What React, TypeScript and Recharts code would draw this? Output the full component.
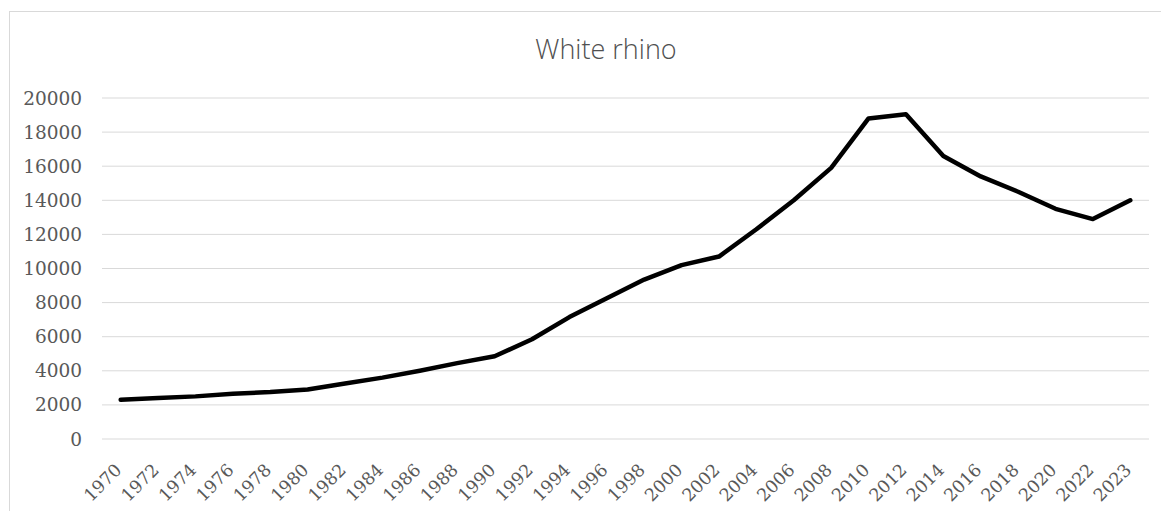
import { LineChart, Line, XAxis, YAxis, CartesianGrid } from 'recharts';

const years = [
  '1970', '1972', '1974', '1976', '1978', '1980', '1982', '1984', '1986', '1988',
  '1990', '1992', '1994', '1996', '1998', '2000', '2002', '2004', '2006', '2008',
  '2010', '2012', '2014', '2016', '2018', '2020', '2022', '2023',
];

const population = [
  2300, 2400, 2500, 2650, 2750, 2900, 3250, 3600, 4000, 4450,
  4850, 5850, 7150, 8250, 9350, 10200, 10700, 12300, 14000, 15900,
  18800, 19050, 16600, 15400, 14500, 13500, 12900, 14000,
];

const yTicks = [0, 2000, 4000, 6000, 8000, 10000, 12000, 14000, 16000, 18000, 20000];

const data = years.map((year, i) => ({ year, value: population[i] }));

const textColor = '#595959';
const tickFont = '"DejaVu Serif", serif';

// eslint-disable-next-line @typescript-eslint/no-explicit-any
function YearTick({ x, payload }: any) {
  return (
    <g transform={`translate(${x + 2}, 471) rotate(-45)`}>
      <text x={0} y={0} textAnchor="end" fill={textColor} fontSize={17.5} fontFamily={tickFont}>
        {payload.value}
      </text>
    </g>
  );
}

export default function App() {
  return (
    <div style={{ position: 'fixed', left: 0, top: 0, width: 1161, height: 511, overflow: 'hidden', background: '#fff' }}>
      <div
        style={{
          position: 'absolute', left: 9, top: 11, width: 1250, height: 600,
          border: '1px solid #d9d9d9', boxSizing: 'border-box',
        }}
      />
      <div
        style={{
          position: 'absolute', left: 406, top: 33, width: 400, textAlign: 'center',
          fontFamily: '"Open Sans", sans-serif', fontWeight: 300, fontSize: 27,
          lineHeight: '32px', color: '#505050',
        }}
      >
        White rhino
      </div>
      <div style={{ position: 'absolute', left: 0, top: 0 }}>
        <LineChart width={1161} height={511} data={data} margin={{ top: 98, right: 12, bottom: 0, left: 0 }}>
          <CartesianGrid vertical={false} stroke="#d9d9d9" strokeWidth={1} />
          <XAxis
            dataKey="year"
            interval={0}
            axisLine={false}
            tickLine={false}
            height={72}
            padding={{ left: 18.7, right: 18.7 }}
            tick={<YearTick />}
          />
          <YAxis
            domain={[0, 20000]}
            ticks={yTicks}
            interval={0}
            axisLine={false}
            tickLine={false}
            width={102}
            tickMargin={14}
            tick={{ fontSize: 18.5, fill: textColor, fontFamily: tickFont }}
          />
          <Line
            type="linear"
            dataKey="value"
            stroke="#000"
            strokeWidth={4.5}
            strokeLinecap="round"
            strokeLinejoin="round"
            dot={false}
            isAnimationActive={false}
          />
        </LineChart>
      </div>
    </div>
  );
}
